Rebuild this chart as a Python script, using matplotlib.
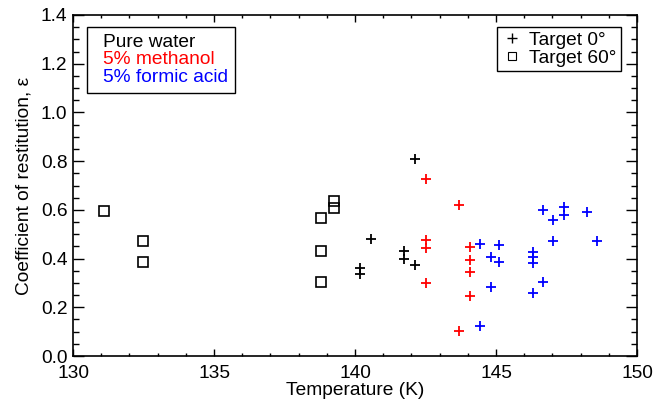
import matplotlib
matplotlib.use("Agg")
import matplotlib.pyplot as plt
from matplotlib.lines import Line2D
from matplotlib.ticker import MultipleLocator, FormatStrFormatter

plt.rcParams['font.family'] = ['Liberation Sans', 'DejaVu Sans']

# target 60 deg (squares), pure water
sq_T = [131.1, 132.48, 132.48, 138.8, 138.8, 138.8, 139.26, 139.26]
sq_eps = [0.595, 0.472, 0.386, 0.568, 0.431, 0.305, 0.636, 0.609]

# target 0 deg (crosses)
water_T = [142.13, 140.57, 140.17, 140.17, 141.74, 141.74, 142.13]
water_eps = [0.807, 0.479, 0.363, 0.335, 0.431, 0.400, 0.372]

meth_T = [142.52, 143.68, 142.52, 142.52, 142.52, 144.07, 144.07, 144.07, 144.07, 143.68]
meth_eps = [0.728, 0.620, 0.476, 0.445, 0.301, 0.449, 0.393, 0.346, 0.245, 0.103]

form_T = [144.43, 145.12, 144.81, 145.12, 144.81, 144.43, 146.67, 147.02, 147.40,
          147.40, 148.22, 147.02, 148.57, 146.32, 146.32, 146.32, 146.67, 146.32]
form_eps = [0.460, 0.457, 0.408, 0.387, 0.283, 0.124, 0.598, 0.558, 0.610,
            0.579, 0.591, 0.471, 0.471, 0.425, 0.408, 0.380, 0.304, 0.259]

fs = 13.8

fig = plt.figure(figsize=(6.53, 4.03), dpi=100)
ax = fig.add_axes([0.1118, 0.1166, 0.8637, 0.8462])

ax.plot(sq_T, sq_eps, 's', ms=6.5, mfc='none', mec='black', mew=1.2, ls='none')
ax.plot(water_T, water_eps, '+', ms=7.5, mec='black', mew=1.3, ls='none')
ax.plot(meth_T, meth_eps, '+', ms=7.5, mec='red', mew=1.3, ls='none')
ax.plot(form_T, form_eps, '+', ms=7.5, mec='blue', mew=1.3, ls='none')

ax.set_xlim(130, 150)
ax.set_ylim(0.0, 1.4)
ax.xaxis.set_major_locator(MultipleLocator(5))
ax.xaxis.set_minor_locator(MultipleLocator(1))
ax.yaxis.set_major_locator(MultipleLocator(0.2))
ax.yaxis.set_minor_locator(MultipleLocator(0.05))
ax.yaxis.set_major_formatter(FormatStrFormatter('%.1f'))
ax.tick_params(which='both', direction='in', top=True, right=True, labelsize=fs, width=1)
ax.tick_params(axis='x', which='major', length=5, pad=6.5)
ax.tick_params(axis='x', which='minor', length=2.5)
ax.tick_params(axis='y', which='major', length=8, pad=4)
ax.tick_params(axis='y', which='minor', length=4)
for s in ax.spines.values():
    s.set_linewidth(1.2)

ax.set_xlabel('Temperature (K)', fontsize=fs, labelpad=0)
ax.set_ylabel('Coefficient of restitution, ε', fontsize=fs, labelpad=6)

# left legend: sample types as coloured text
blank = [Line2D([], [], ls='none') for _ in range(3)]
leg1 = ax.legend(blank, ['Pure water', '5% methanol', '5% formic acid'],
                 loc='upper left', bbox_to_anchor=(0.025, 0.965), handlelength=0.5,
                 handletextpad=0, fontsize=fs, fancybox=False, framealpha=1,
                 edgecolor='black', borderpad=0.35, labelspacing=0.0, borderaxespad=0)
leg1.get_frame().set_linewidth(1)
for t, c in zip(leg1.get_texts(), ['black', 'red', 'blue']):
    t.set_color(c)
ax.add_artist(leg1)

h = [Line2D([], [], marker='+', ms=7, mew=1, color='black', ls='none'),
     Line2D([], [], marker='s', ms=6, mfc='none', mec='black', mew=0.8, ls='none')]
leg2 = ax.legend(h, ['Target 0°', 'Target 60°'], loc='upper right',
                 bbox_to_anchor=(0.972, 0.965), handlelength=1, handletextpad=0.4,
                 fontsize=fs, fancybox=False, framealpha=1, edgecolor='black',
                 borderpad=0.25, labelspacing=0.0, borderaxespad=0)
leg2.get_frame().set_linewidth(1)

fig.savefig('out.png', dpi=100)
